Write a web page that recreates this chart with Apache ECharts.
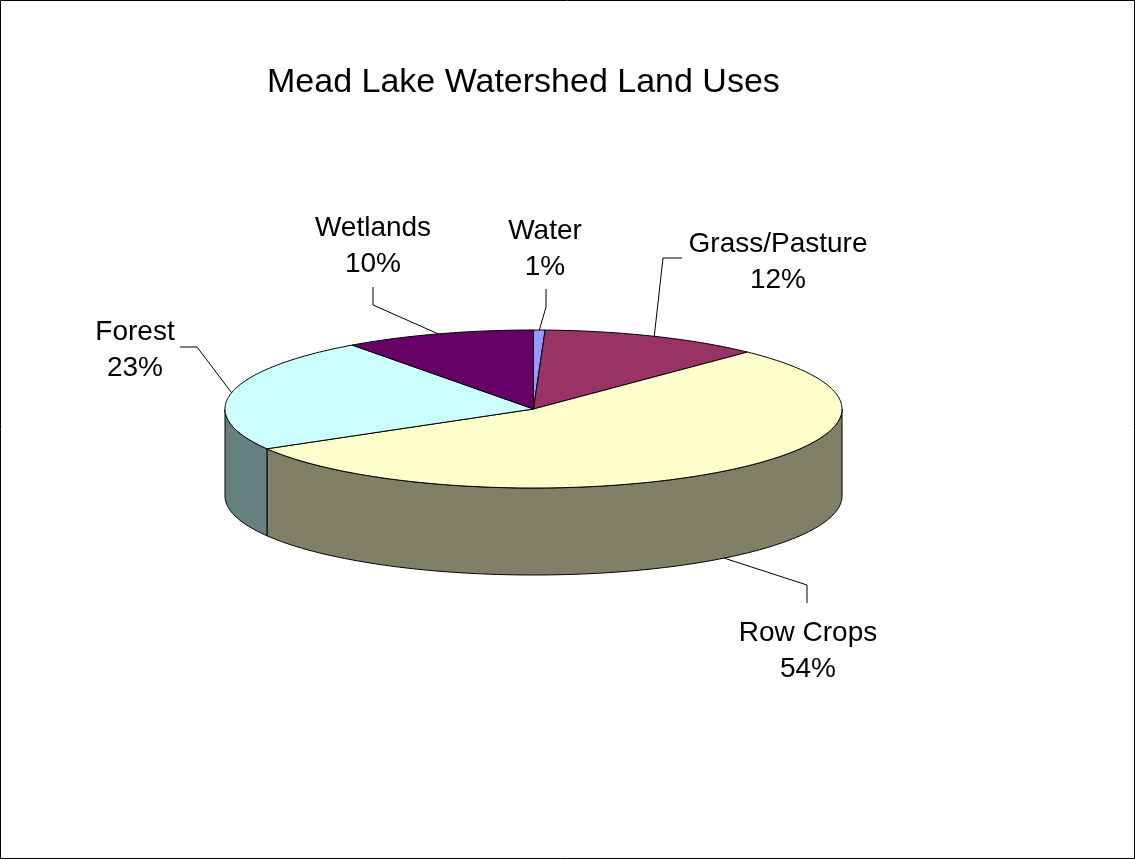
<!DOCTYPE html>
<html>
<head>
<meta charset="utf-8">
<script src="https://cdn.jsdelivr.net/npm/echarts@6/dist/echarts.min.js"></script>
<style>
  html, body { margin: 0; padding: 0; background: #fff; }
  #main { width: 1135px; height: 859px; }
</style>
</head>
<body>
<div id="main"></div>
<script>
// land use shares, clockwise from 12 o'clock
var categories = ['Water', 'Grass/Pasture', 'Row Crops', 'Forest', 'Wetlands'];
var shares = [0.6, 11.6, 54.4, 23.4, 10.0];
var topColors = ['#9999FF', '#993366', '#FFFFCC', '#CCFFFF', '#660066'];

// where the labels sit (text centre, leader bend, leader end at label)
var labelLayout = [
  { text: [545, 249], bend: [546, 307], end: [546, 289] },
  { text: [778, 262], bend: [663, 258], end: [682, 258] },
  { text: [808, 651], bend: [807, 585], end: [807, 603] },
  { text: [135, 350], bend: [197, 347], end: [180, 347] },
  { text: [373, 246], bend: [373, 305], end: [373, 287] }
];

// pie geometry (tilted disc)
var pie = { cx: 533.5, cy: 409, rx: 308.5, ry: 79, depth: 87 };

var total = 0;
var starts = [];
for (var i = 0; i < shares.length; i++) {
  starts.push(total);
  total += shares[i];
}

function pt(deg, dz) {
  var r = deg * Math.PI / 180;
  return [pie.cx + pie.rx * Math.sin(r), pie.cy - pie.ry * Math.cos(r) + (dz || 0)];
}

function arc(a, b, dz) {
  var pts = [];
  var n = Math.max(2, Math.ceil(Math.abs(b - a)));
  for (var k = 0; k <= n; k++) {
    pts.push(pt(a + (b - a) * k / n, dz));
  }
  return pts;
}

function shade(hex) {
  var c = parseInt(hex.slice(1), 16);
  var r = Math.round(((c >> 16) & 255) / 2);
  var g = Math.round(((c >> 8) & 255) / 2);
  var b = Math.round((c & 255) / 2);
  return 'rgb(' + r + ',' + g + ',' + b + ')';
}

function renderItem(params, api) {
  var idx = params.dataIndex;
  var a = starts[idx] / total * 360;
  var b = (starts[idx] + api.value(0)) / total * 360;
  var children = [];

  // front wall
  var sa = Math.max(a, 90), sb = Math.min(b, 270);
  if (sb > sa) {
    var wall = arc(sa, sb, 0).concat(arc(sb, sa, pie.depth));
    children.push({
      type: 'polygon', z2: 0,
      shape: { points: wall },
      style: { fill: shade(topColors[idx]), stroke: '#000', lineWidth: 1 }
    });
  }

  // top face
  var face = [[pie.cx, pie.cy]].concat(arc(a, b, 0));
  children.push({
    type: 'polygon', z2: 1,
    shape: { points: face },
    style: { fill: topColors[idx], stroke: '#000', lineWidth: 1 }
  });

  // leader line to the mid angle of the slice
  var mid = (a + b) / 2;
  var anchor = (mid > 90 && mid < 270) ? pt(mid, pie.depth) : pt(mid, 0);
  var lay = labelLayout[idx];
  children.push({
    type: 'polyline', z2: 5,
    shape: { points: [anchor, lay.bend, lay.end] },
    style: { fill: null, stroke: '#000', lineWidth: 1 }
  });

  children.push({
    type: 'text', z2: 6,
    style: {
      text: categories[idx] + '\n' + Math.round(api.value(0)) + '%',
      x: lay.text[0], y: lay.text[1],
      align: 'center', verticalAlign: 'middle',
      font: '28px Arial, "Liberation Sans", sans-serif',
      lineHeight: 36,
      fill: '#000'
    }
  });

  return { type: 'group', children: children };
}

var myChart = echarts.init(document.getElementById('main'));
var option = {
  animation: false,
  backgroundColor: '#fff',
  title: {
    text: 'Mead Lake Watershed Land Uses',
    left: 262,
    top: 61,
    textStyle: {
      fontFamily: 'Arial, "Liberation Sans", sans-serif',
      fontSize: 34,
      fontWeight: 'normal',
      color: '#000'
    }
  },
  graphic: [
    {
      type: 'rect',
      shape: { x: 0.5, y: 0.5, width: 1134, height: 858 },
      style: { fill: null, stroke: '#000', lineWidth: 1 },
      silent: true
    }
  ],
  series: [
    {
      type: 'custom',
      coordinateSystem: 'none',
      silent: true,
      renderItem: renderItem,
      data: shares
    }
  ]
};
myChart.setOption(option);
</script>
</body>
</html>
